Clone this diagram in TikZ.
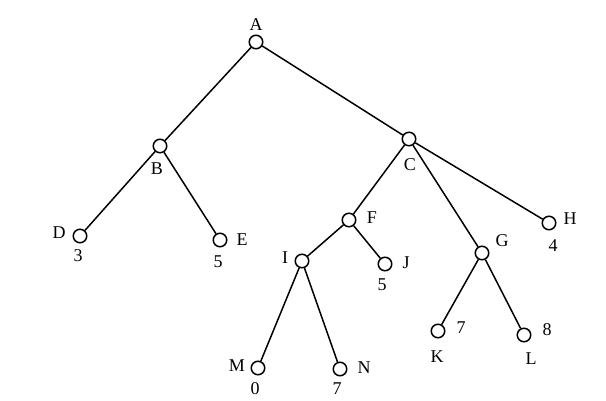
\documentclass[tikz,border=0pt]{standalone}
\usepackage{fontspec}
\setmainfont{Liberation Serif}
\begin{document}
\begin{tikzpicture}[x=1pt,y=-1pt,
  vert/.style={circle,draw,line width=1.5pt,minimum size=13.5pt,inner sep=0pt,fill=white},
  lbl/.style={inner sep=0pt,font=\fontsize{18}{20}\selectfont},
  edge/.style={line width=1.5pt}]
\useasboundingbox (0,0) rectangle (606,400);
\fill[white] (0,0) rectangle (606,400);
\node[vert] (A) at (256,42) {};
\node[vert] (B) at (160,146) {};
\node[vert] (C) at (409,139) {};
\node[vert] (D) at (80,236) {};
\node[vert] (E) at (220,240) {};
\node[vert] (F) at (349,220) {};
\node[vert] (G) at (482,253) {};
\node[vert] (H) at (549,223) {};
\node[vert] (I) at (302,261) {};
\node[vert] (J) at (385,264) {};
\node[vert] (K) at (438,331) {};
\node[vert] (L) at (524,335) {};
\node[vert] (M) at (258,368) {};
\node[vert] (N) at (340,369) {};
\draw[edge] (A) -- (B);
\draw[edge] (A) -- (C);
\draw[edge] (B) -- (D);
\draw[edge] (B) -- (E);
\draw[edge] (C) -- (F);
\draw[edge] (C) -- (G);
\draw[edge] (C) -- (H);
\draw[edge] (F) -- (I);
\draw[edge] (F) -- (J);
\draw[edge] (I) -- (M);
\draw[edge] (I) -- (N);
\draw[edge] (G) -- (K);
\draw[edge] (G) -- (L);
\node[lbl] (tA) at (256,25) {A};
\node[lbl] (tB) at (157,169) {B};
\node[lbl] (tC) at (410,165) {C};
\node[lbl] (tD) at (59,233) {D};
\node[lbl] (vD) at (78,256) {3};
\node[lbl] (tE) at (242,240) {E};
\node[lbl] (vE) at (218,262) {5};
\node[lbl] (tF) at (372,218) {F};
\node[lbl] (tG) at (502,241) {G};
\node[lbl] (tH) at (570,219) {H};
\node[lbl] (vH) at (553,246) {4};
\node[lbl] (tI) at (285,258) {I};
\node[lbl] (tJ) at (406,263) {J};
\node[lbl] (vJ) at (382,285) {5};
\node[lbl] (vK) at (461,328) {7};
\node[lbl] (tK) at (437,357) {K};
\node[lbl] (vL) at (547,330) {8};
\node[lbl] (tL) at (531,359) {L};
\node[lbl] (tM) at (237,366) {M};
\node[lbl] (vM) at (255,389) {0};
\node[lbl] (tN) at (364,368) {N};
\node[lbl] (vN) at (337,389) {7};
\end{tikzpicture}
\end{document}
